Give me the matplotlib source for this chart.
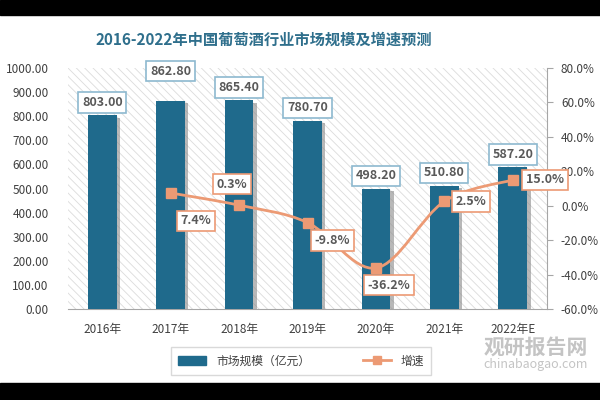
import matplotlib.pyplot as plt
import matplotlib.patheffects as pe
from matplotlib.patches import Rectangle, Patch, PathPatch
from matplotlib.lines import Line2D
from matplotlib.path import Path
from matplotlib.ticker import FormatStrFormatter

plt.rcParams['font.family'] = ['Noto Sans CJK SC', 'DejaVu Sans']
plt.rcParams['hatch.linewidth'] = 0.6

# datos
anios = ['2016年', '2017年', '2018年', '2019年', '2020年', '2021年', '2022年E']
mercado = [803.00, 862.80, 865.40, 780.70, 498.20, 510.80, 587.20]
crecimiento = [7.4, 0.3, -9.8, -36.2, 2.5, 15.0]  # desde 2017

azul = '#1f6a8c'
naranja = '#ec9a74'
gris_txt = '#595959'

fig = plt.figure(figsize=(6, 4), dpi=100)
ax = fig.add_axes([0.1133, 0.2275, 0.7984, 0.6025])
ax2 = ax.twinx()

# fondo rayado
ax.patch.set_facecolor('white')
ax.patch.set_hatch('\\\\\\\\')
ax.patch.set_edgecolor('#dcdcdc')

x = list(range(len(anios)))
barras = ax.bar(x, mercado, width=0.42, color=azul, zorder=3,
                path_effects=[pe.SimplePatchShadow(offset=(2.5, -1.5), shadow_rgbFace='#8a8a8a', alpha=0.6), pe.Normal()])
ax.set_xlim(-0.5, len(anios) - 0.5)
ax.set_ylim(0, 1000)
ax.set_yticks(range(0, 1001, 100))
ax.yaxis.set_major_formatter(FormatStrFormatter('%.2f'))
ax.tick_params(axis='y', length=0, labelsize=8.5, labelcolor='#404040', pad=14)
ax.set_xticks(x)
ax.set_xticklabels(anios)
ax.tick_params(axis='x', length=0, labelsize=8.5, labelcolor='#404040', pad=10)
for s in ['top', 'left', 'right']:
    ax.spines[s].set_visible(False)
ax.spines['bottom'].set_color('#a6a6a6')

# etiquetas de barras
for i, v in enumerate(mercado):
    dy = 30 if i == 1 else 13
    ax.annotate(f'{v:.2f}', (i, v), xytext=(0, dy), textcoords='offset pixels',
                ha='center', va='center', fontsize=9, fontweight='bold', color=gris_txt,
                bbox=dict(boxstyle='square,pad=0.3', fc='white', ec='#8db9cf', lw=1.2), zorder=5)

# línea de crecimiento (suavizada)
xl = x[1:]
ax2.set_ylim(-60, 80)
ax2.set_yticks(range(-60, 81, 20))
ax2.yaxis.set_major_formatter(FormatStrFormatter('%.1f%%'))
ax2.tick_params(axis='y', length=4, direction='out', color='#a6a6a6', labelsize=8.5, labelcolor='#404040', pad=6)
for s in ['top', 'left', 'bottom']:
    ax2.spines[s].set_visible(False)
ax2.spines['right'].set_color('#a6a6a6')

pts = list(zip(xl, crecimiento))
verts = [pts[0]]
codes = [Path.MOVETO]
for k in range(len(pts) - 1):
    p0 = pts[k - 1] if k > 0 else pts[k]
    p1 = pts[k]
    p2 = pts[k + 1]
    p3 = pts[k + 2] if k + 2 < len(pts) else pts[k + 1]
    c1 = (p1[0] + (p2[0] - p0[0]) / 6, p1[1] + (p2[1] - p0[1]) / 6)
    c2 = (p2[0] - (p3[0] - p1[0]) / 6, p2[1] - (p3[1] - p1[1]) / 6)
    verts += [c1, c2, p2]
    codes += [Path.CURVE4] * 3
ax2.add_patch(PathPatch(Path(verts, codes), fc='none', ec=naranja, lw=2, zorder=4))
ax2.plot(xl, crecimiento, linestyle='none', marker='s', markersize=7, color=naranja, zorder=5)

desp = [(25, -28), (-7, 21), (25, -18), (13, -17), (27, 0), (32, 0)]
for xi, v, d in zip(xl, crecimiento, desp):
    ax2.annotate(f'{v:.1f}%', (xi, v), xytext=d, textcoords='offset pixels',
                 ha='center', va='center', fontsize=9, fontweight='bold', color=gris_txt,
                 bbox=dict(boxstyle='square,pad=0.3', fc='white', ec=naranja, lw=1.2), zorder=6)

# título
fig.text(0.44, 0.9, '2016-2022年中国葡萄酒行业市场规模及增速预测', ha='center', va='center',
         fontsize=11, fontweight='bold', color='#2f6f8c')

# leyenda
handles = [Patch(color=azul), Line2D([], [], color=naranja, lw=2, marker='s', markersize=6)]
leg = fig.legend(handles, ['市场规模（亿元）', '增速'], ncol=2, loc='center',
                 bbox_to_anchor=(0.502, 0.0975), fontsize=8.5, frameon=True, borderpad=0.6,
                 fancybox=False, edgecolor='#d0d0d0', handlelength=2.4, columnspacing=4.5)
for t in leg.get_texts():
    t.set_color('#404040')

# marca de agua
fig.text(0.98, 0.132, '观研报告网', ha='right', va='center', fontsize=15, fontweight='bold', color='#c4c4c4')
fig.text(0.98, 0.088, 'chinabaogao.com', ha='right', va='center', fontsize=9, color='#c4c4c4')

# bandas negras
fig.patches.append(Rectangle((0, 0.9625), 1, 0.0375, transform=fig.transFigure, color='black', zorder=0))
fig.patches.append(Rectangle((0, 0), 1, 0.0425, transform=fig.transFigure, color='black', zorder=0))

fig.savefig('out.png', dpi=100)
